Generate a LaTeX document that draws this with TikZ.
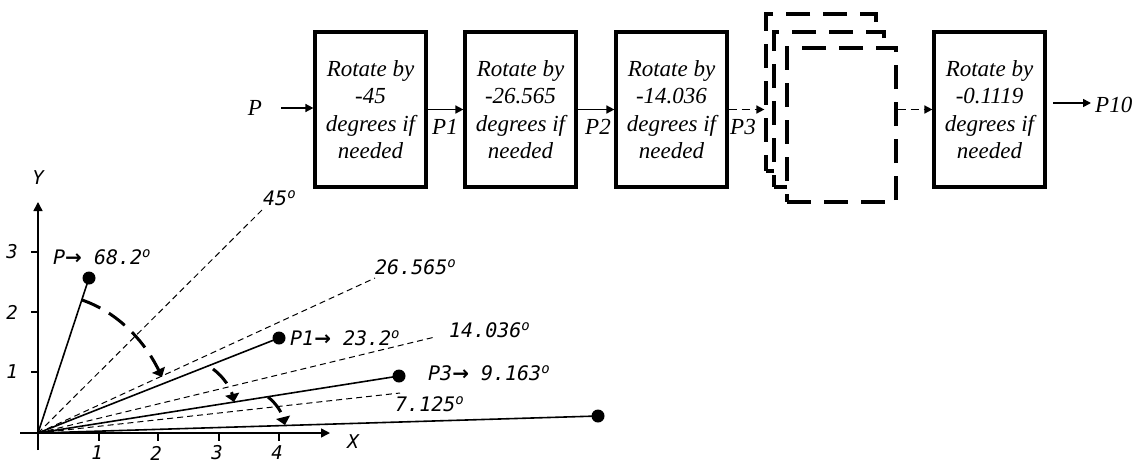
\documentclass[tikz,border=0pt]{standalone}
\usepackage{fontspec}
\setmainfont{Liberation Serif}
\newfontfamily\plotfont{DejaVu Sans Mono}
\newfontfamily\arrowfont{DejaVu Sans}
\newcommand{\toarrow}{{\arrowfont\upshape\bfseries →}}
\usetikzlibrary{arrows.meta}

\begin{document}
\begin{tikzpicture}[x=1pt,y=-1pt,
  procbox/.style={draw,line width=3.2pt,minimum width=111pt,minimum height=155pt,
    inner sep=0pt,align=center,font=\fontsize{23}{27.5}\selectfont\itshape},
  ghost/.style={draw,line width=3.2pt,dash pattern=on 24pt off 13pt,fill=white,inner sep=0pt},
  arr/.style={line width=1.6pt,-{Triangle[length=8pt,width=8pt]}},
  darr/.style={arr,dash pattern=on 8pt off 5pt},
  sig/.style={font=\fontsize{23}{27.5}\selectfont\itshape,inner sep=0pt},
  plot/.style={font=\plotfont\itshape\fontsize{20}{24}\selectfont,inner sep=0pt},
  tick/.style={font=\plotfont\itshape\fontsize{19}{22}\selectfont,inner sep=0pt},
  axis/.style={line width=1.5pt,-{Triangle[length=9pt,width=9pt]}},
  ray/.style={line width=1.6pt},
  guide/.style={line width=1pt,dash pattern=on 6pt off 4pt},
  sweep/.style={line width=3pt,dash pattern=on 20pt off 10pt,-{Triangle[length=8pt,width=14pt]}},
  dot/.style={circle,fill,inner sep=0pt,minimum size=13pt},
]
\useasboundingbox (0,0) rectangle (1140,469);

% ---- rotation pipeline ----
\node[sig] (pl) at (255,108) {P};
\coordinate (pin) at (281,108);
\node[procbox] (b1) at (370.5,109.5) {Rotate by\\-45\\degrees if\\needed};
\node[procbox] (b2) at (520.5,109.5) {Rotate by\\-26.565\\degrees if\\needed};
\node[procbox] (b3) at (671.5,109.5) {Rotate by\\-14.036\\degrees if\\needed};
\node[ghost,minimum width=110pt,minimum height=157pt] (g1) at (821,92.5) {};
\node[ghost,minimum width=110pt,minimum height=155pt] (g2) at (829,109.5) {};
\node[ghost,minimum width=109pt,minimum height=154pt] (g3) at (841.5,125) {};
\node[procbox] (b4) at (989.5,109.5) {Rotate by\\-0.1119\\degrees if\\needed};

\draw[arr] (pin) -- (pin -| b1.west);
\draw[arr] (b1.east) -- (b2.west);
\draw[arr] (b2.east) -- (b3.west);
\draw[darr] (b3.east) -- (b3.east -| g1.west);
\draw[darr] (g3.east |- b4.west) -- (b4.west);
\node[sig,inner sep=4pt,anchor=west] (p10) at (1091,105) {P10};
\coordinate (pout) at (1053,103);
\draw[arr] (pout) -- (pout -| p10.west);

\node[sig] (l1) at (445,127) {P1};
\node[sig] (l2) at (598,127) {P2};
\node[sig] (l3) at (743,127) {P3};

% ---- axes ----
\coordinate (O) at (38,433);
\coordinate (xs) at (20,433);
\coordinate (xe) at (330,433);
\coordinate (ys) at (38,450);
\coordinate (ye) at (38,202);
\draw[axis] (xs) -- (xe);
\draw[axis] (ys) -- (ye);
\foreach \i/\x in {1/99,2/158,3/219,4/279}{
  \draw[line width=1.3pt] (\x,433) -- (\x,441);
  \node[tick] (tx\i) at (\x-2,453) {\i};
}
\foreach \i/\y in {1/372,2/312,3/252}{
  \draw[line width=1.3pt] (38,\y) -- (31,\y);
  \node[tick] (ty\i) at (12,\y) {\i};
}
\node[tick] (ylab) at (38,178) {Y};
\node[tick] (xlab) at (353,442) {X};

% ---- reference angles ----
\coordinate (e45) at (262,210);
\coordinate (e26) at (375,278);
\coordinate (e14) at (435,337);
\coordinate (e7) at (400,393);
\draw[guide] (O) -- (e45);
\draw[guide] (O) -- (e26);
\draw[guide] (O) -- (e14);
\draw[guide] (O) -- (e7);
\node[plot,anchor=west] (l45) at (263,198) {45\textsuperscript{o}};
\node[plot,anchor=west] (l26) at (375,267) {26.565\textsuperscript{o}};
\node[plot,anchor=west] (l14) at (449,330) {14.036\textsuperscript{o}};
\node[plot,anchor=west] (l7) at (395,404) {7.125\textsuperscript{o}};

% ---- vector after each stage ----
\node[dot] (p0) at (89,278) {};
\node[dot] (p1) at (279,338) {};
\node[dot] (p3) at (399,376) {};
\node[dot] (p10d) at (598,416) {};
\draw[ray] (O) -- (p0.center);
\draw[ray] (O) -- (p1.center);
\draw[ray] (O) -- (p3.center);
\draw[ray] (O) -- (p10d.center);
\node[plot,anchor=west] (lp0) at (53,257) {P\toarrow{} 68.2\textsuperscript{o}};
\node[plot,anchor=west] (lp1) at (290,338) {P1\toarrow{} 23.2\textsuperscript{o}};
\node[plot,anchor=west] (lp3) at (428,373) {P3\toarrow{} 9.163\textsuperscript{o}};

% ---- rotation sweeps ----
\coordinate (s1a) at (82,300);
\coordinate (s1b) at (162,377);
\draw[sweep] (s1a) .. controls (117,312) and (144,340) .. (s1b);
\coordinate (s2a) at (213,369);
\coordinate (s2b) at (234,402);
\draw[sweep] (s2a) .. controls (224,377) and (231,389) .. (s2b);
\coordinate (s3a) at (268,397);
\coordinate (s3b) at (285,425);
\draw[sweep] (s3a) .. controls (276,403) and (282,413) .. (s3b);
\end{tikzpicture}
\end{document}
